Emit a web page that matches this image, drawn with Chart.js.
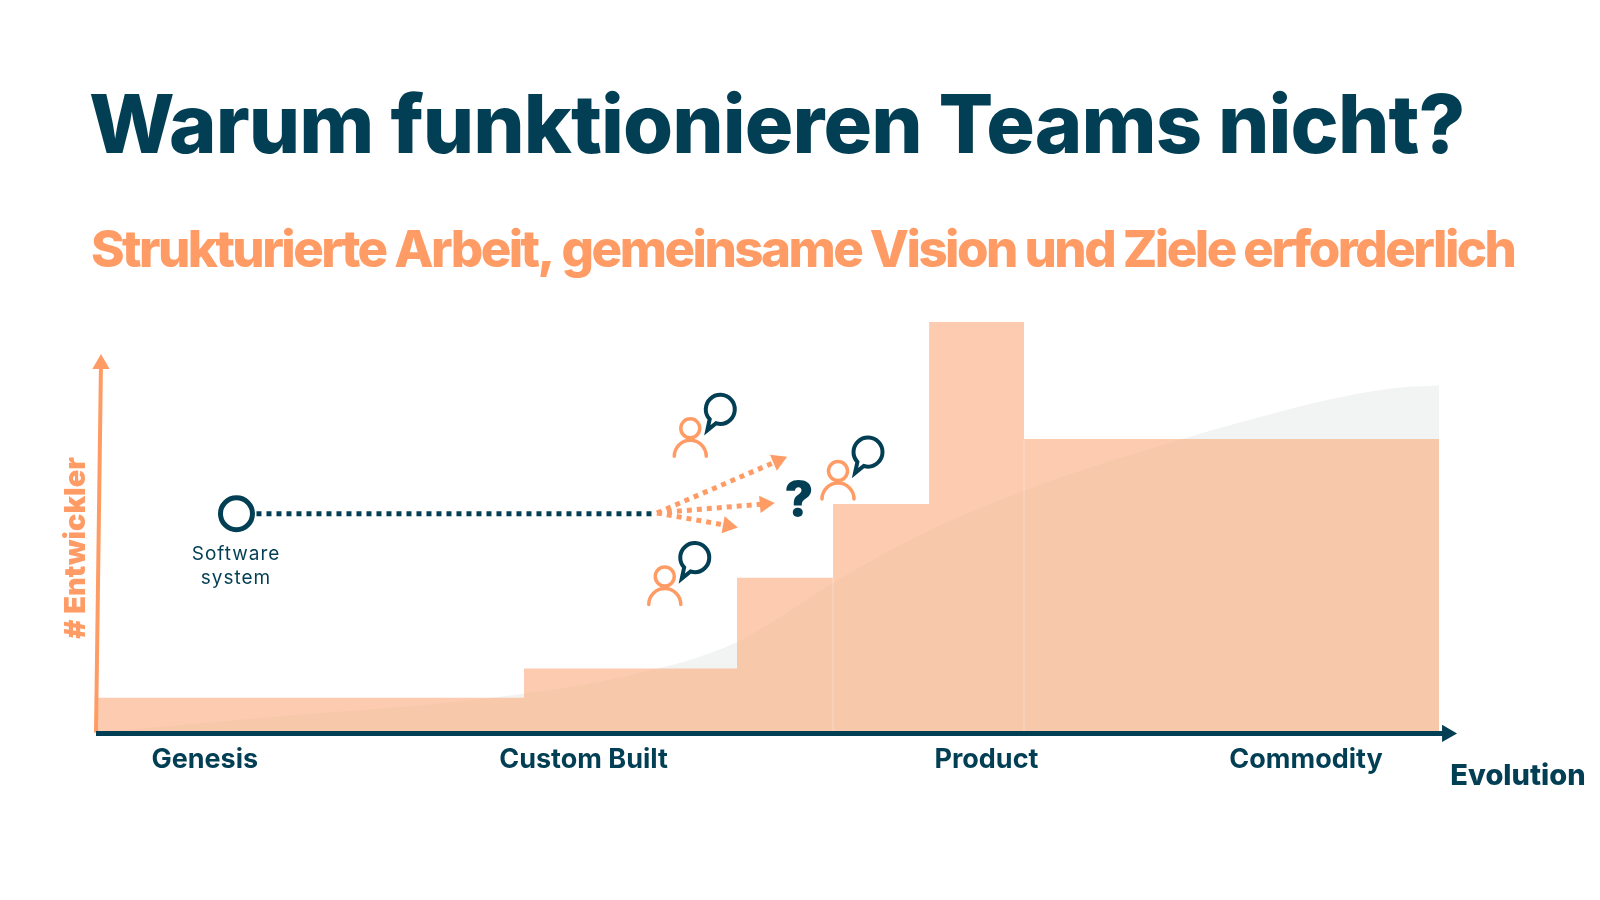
<!DOCTYPE html>
<html>
<head>
<meta charset="utf-8">
<title>Warum funktionieren Teams nicht?</title>
<script src="https://cdn.jsdelivr.net/npm/chart.js@4/dist/chart.umd.min.js"></script>
<style>
  html, body { margin: 0; padding: 0; background: #fff; }
</style>
</head>
<body>
<canvas id="chart" width="1600" height="900"></canvas>
<script>
var titleText = 'Warum funktionieren Teams nicht?';
var subtitleText = 'Strukturierte Arbeit, gemeinsame Vision und Ziele erforderlich';
var stageLabels = ['Genesis', 'Custom Built', 'Product', 'Commodity'];
var stagePositions = [8.1, 36.3, 66.3, 90.1];

// developers per evolution step
var stairEdges = [0, 31.87, 47.73, 54.88, 62.03, 69.1, 100];
var stairHeights = [8.5, 15.6, 37.7, 55.7, 100, 71.5, 71.5];
var seamX = [54.88, 69.1];
var seamY = [37.7, 71.5];

// s-curve behind the stairs
var curveX = [0, 7.74, 16, 24.1, 31.9, 37.5, 41.8, 44.5, 47.7, 50.4, 54.9, 61.4, 69.1, 81.2, 86.4, 91.4, 96.4, 100];
var curveY = [0, 2.2, 4.6, 6.6, 9.5, 12.4, 15.6, 18, 22, 27, 36.5, 48.2, 58.9, 71.8, 76.6, 80.8, 83.8, 84.6];

var systemPoint = [10.46, 53.3];
var dottedEnd = [41.5, 53.3];
var forkStart = [41.77, 53.5];
var forkEnds = [[50.78, 66.2], [49.8, 55.7], [47.06, 50.4]];
var forkAngles = [66.7, 85, 100];
var people = [[44.25, 74.1], [55.25, 63.7], [42.35, 38]];

var dark = '#033f54';
var orange = '#ff9c66';

function pairs(xs, ys) {
  return xs.map(function(x, i) { return { x: x, y: ys[i] }; });
}

var forkSets = forkEnds.map(function(end, i) {
  return {
    data: [{ x: forkStart[0], y: forkStart[1] }, { x: end[0], y: end[1] }],
    borderColor: orange,
    backgroundColor: orange,
    borderWidth: 5,
    borderDash: [5, 5],
    pointStyle: 'triangle',
    pointRotation: forkAngles[i],
    pointBorderWidth: 0,
    pointRadius: [0, 10],
    order: 1,
    clip: false
  };
});

var seamSets = seamX.map(function(x, i) {
  return {
    data: [{ x: x, y: 0 }, { x: x, y: seamY[i] }],
    borderColor: 'rgba(255,255,255,0.3)',
    borderWidth: 1,
    pointRadius: 0,
    order: 4
  };
});

function drawText(ctx, text, x, y, font, color, spacing) {
  ctx.font = font;
  ctx.fillStyle = color;
  ctx.letterSpacing = spacing || '0px';
  ctx.fillText(text, x, y);
  ctx.letterSpacing = '0px';
}

var labelsPlugin = {
  id: 'labels',
  afterDatasetsDraw: function(chart) {
    var ctx = chart.ctx;
    var xs = chart.scales.x;
    var ys = chart.scales.y;
    ctx.save();
    ctx.textBaseline = 'middle';

    ctx.textAlign = 'left';
    drawText(ctx, titleText, 89, 129, '800 81px Inter', dark, '-0.9px');
    drawText(ctx, subtitleText, 91, 252, '800 51px Inter', orange, '-2.55px');

    ctx.textAlign = 'center';
    people.forEach(function(p) {
      var px = xs.getPixelForValue(p[0]);
      var py = ys.getPixelForValue(p[1]);
      ctx.lineWidth = 3.5;
      ctx.lineCap = 'round';
      ctx.strokeStyle = orange;
      ctx.beginPath();
      ctx.arc(px, py, 9.5, 0, Math.PI * 2);
      ctx.stroke();
      ctx.beginPath();
      ctx.arc(px, py + 28, 16, Math.PI, 0);
      ctx.stroke();
      // speech bubble
      ctx.strokeStyle = dark;
      ctx.lineWidth = 4;
      ctx.lineJoin = 'miter';
      ctx.beginPath();
      ctx.arc(px + 30, py - 19, 14.5, 137 * Math.PI / 180, 107 * Math.PI / 180);
      ctx.lineTo(px + 17, py + 2);
      ctx.closePath();
      ctx.stroke();
    });

    drawText(ctx, '?', 799, 502, '900 48px Inter', dark);
    drawText(ctx, 'Software', 236, 554, '400 19px Inter', dark, '1px');
    drawText(ctx, 'system', 236, 578, '400 19px Inter', dark, '1px');
    drawText(ctx, 'Evolution', 1518, 776, '800 29px Inter', dark);

    ctx.translate(76, 548);
    ctx.rotate(-Math.PI / 2);
    drawText(ctx, '# Entwickler', 0, 0, '900 29px Inter', orange);
    ctx.restore();
  }
};

new Chart(document.getElementById('chart'), {
  type: 'line',
  data: {
    datasets: [
      {
        data: pairs(curveX, curveY),
        borderWidth: 0,
        pointRadius: 0,
        cubicInterpolationMode: 'monotone',
        fill: 'origin',
        backgroundColor: '#f2f4f3',
        order: 6
      },
      {
        data: pairs(stairEdges, stairHeights),
        stepped: 'before',
        borderWidth: 0,
        pointRadius: 0,
        fill: 'origin',
        backgroundColor: 'rgba(252,170,123,0.6)',
        order: 5
      },
      {
        // y axis arrow
        data: [{ x: 0, y: 0 }, { x: 0.37, y: 89.8 }],
        borderColor: orange,
        backgroundColor: orange,
        borderWidth: 4,
        pointStyle: 'triangle',
        pointBorderWidth: 0,
        pointRadius: [0, 10],
        order: 3,
        clip: false
      },
      {
        // x axis arrow
        data: [{ x: 0, y: -0.2 }, { x: 100.6, y: -0.2 }],
        borderColor: dark,
        backgroundColor: dark,
        borderWidth: 5,
        pointStyle: 'triangle',
        pointRotation: 90,
        pointBorderWidth: 0,
        pointRadius: [0, 10],
        order: 2,
        clip: false
      },
      {
        data: [{ x: systemPoint[0], y: systemPoint[1] }, { x: dottedEnd[0], y: dottedEnd[1] }],
        borderColor: dark,
        borderWidth: 5,
        borderDash: [5, 5],
        pointRadius: 0,
        order: 1
      },
      {
        data: [{ x: systemPoint[0], y: systemPoint[1] }],
        showLine: false,
        pointStyle: 'circle',
        pointRadius: 16,
        pointBorderWidth: 5,
        pointBorderColor: dark,
        pointBackgroundColor: '#fff',
        order: 0
      }
    ].concat(forkSets, seamSets)
  },
  plugins: [labelsPlugin],
  options: {
    responsive: false,
    animation: false,
    layout: { padding: { left: 96, right: 161, top: 322, bottom: 121 } },
    plugins: {
      legend: { display: false },
      tooltip: { enabled: false }
    },
    scales: {
      x: {
        type: 'linear',
        min: 0,
        max: 100,
        grid: { display: false },
        border: { display: false },
        afterBuildTicks: function(axis) {
          axis.ticks = stagePositions.map(function(v) { return { value: v }; });
        },
        ticks: {
          autoSkip: false,
          maxRotation: 0,
          padding: 3,
          color: dark,
          font: { family: 'Inter', size: 27, weight: '700' },
          callback: function(value) {
            return stageLabels[stagePositions.indexOf(value)];
          }
        }
      },
      y: {
        display: false,
        min: 0,
        max: 100
      }
    }
  }
});
</script>
</body>
</html>
